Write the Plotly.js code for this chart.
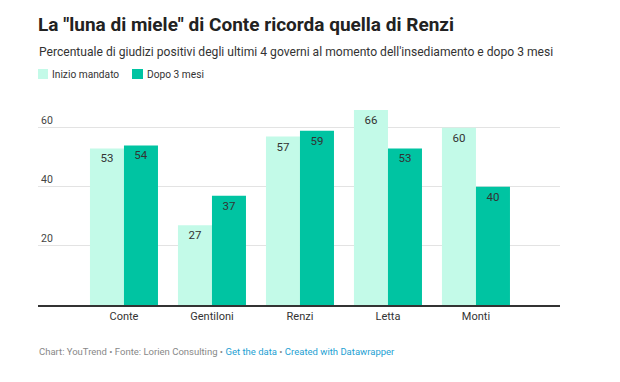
<!DOCTYPE html>
<html>
<head>
<meta charset="utf-8">
<script src="https://cdn.plot.ly/plotly-3.0.1.min.js"></script>
<style>html,body{margin:0;padding:0;background:#fff;}#chart{width:620px;height:382px;}</style>
</head>
<body>
<div id="chart"></div>
<script>
const categories = ["Conte", "Gentiloni", "Renzi", "Letta", "Monti"];
const inizioMandato = [53, 27, 57, 66, 60];
const dopo3Mesi = [54, 37, 59, 53, 40];
const seriesNames = ["Inizio mandato", "Dopo 3 mesi"];
const yTicks = [20, 40, 60];

const LIGHT = "#c3fae8";
const DARK = "#00c4a2";
const FONT = "Roboto, 'Open Sans', sans-serif";

const xIdx = categories.map((_, i) => i);

const traces = [
  {
    type: "bar", name: seriesNames[0], x: xIdx, y: inizioMandato,
    marker: {color: LIGHT}, text: inizioMandato.map(String),
    textposition: "inside", insidetextanchor: "end", textangle: 0,
    textfont: {family: FONT, size: 11.5, color: "#333"},
    constraintext: "none", hoverinfo: "none", showlegend: false
  },
  {
    type: "bar", name: seriesNames[1], x: xIdx, y: dopo3Mesi,
    marker: {color: DARK}, text: dopo3Mesi.map(String),
    textposition: "inside", insidetextanchor: "end", textangle: 0,
    textfont: {family: FONT, size: 11.5, color: "#333"},
    constraintext: "none", hoverinfo: "none", showlegend: false
  }
];

const H = 195, BOTTOM = 305, LEFT = 38, W = 522;
const py = p => (BOTTOM - p) / H;
const px = p => (p - LEFT) / W;

const layout = {
  width: 620, height: 382,
  margin: {l: 38, r: 60, t: 110, b: 77},
  paper_bgcolor: "#fff", plot_bgcolor: "#fff",
  font: {family: FONT, color: "#333"},
  barmode: "group", bargap: 0.227, bargroupgap: 0,
  xaxis: {
    type: "linear", range: [-0.977, 4.955],
    tickvals: xIdx, ticktext: categories,
    showgrid: false, zeroline: false,
    showline: true, linecolor: "#333", linewidth: 1.5,
    ticks: "", tickfont: {family: FONT, size: 11, color: "#333"},
    fixedrange: true
  },
  yaxis: {
    range: [0, 66], tickvals: yTicks, ticktext: yTicks.map(String),
    showgrid: true, gridcolor: "#e3e3e3", gridwidth: 1,
    zeroline: false, showline: false, ticks: "",
    ticklabelposition: "inside top",
    tickfont: {family: FONT, size: 10.5, color: "#444"},
    fixedrange: true
  },
  title: {
    text: "La \"luna di miele\" di Conte ricorda quella di Renzi",
    font: {family: FONT, size: 19, color: "#222", weight: "bold"},
    xref: "container", yref: "container",
    x: 38/620, xanchor: "left", y: 1 - 24/382, yanchor: "middle"
  },
  shapes: [
    {type: "rect", xref: "paper", yref: "paper", x0: px(38), x1: px(48), y0: py(79), y1: py(69), fillcolor: LIGHT, line: {width: 0}},
    {type: "rect", xref: "paper", yref: "paper", x0: px(132), x1: px(143), y0: py(79), y1: py(69), fillcolor: DARK, line: {width: 0}}
  ],
  annotations: [
    {text: "Percentuale di giudizi positivi degli ultimi 4 governi al momento dell'insediamento e dopo 3 mesi",
     xref: "paper", yref: "paper", x: px(37), y: py(52), xanchor: "left", yanchor: "middle", showarrow: false,
     font: {family: FONT, size: 12.1, color: "#333"}},
    {text: seriesNames[0], xref: "paper", yref: "paper", x: px(50), y: py(74), xanchor: "left", yanchor: "middle", showarrow: false,
     font: {family: FONT, size: 10.2, color: "#333"}},
    {text: seriesNames[1], xref: "paper", yref: "paper", x: px(145), y: py(74), xanchor: "left", yanchor: "middle", showarrow: false,
     font: {family: FONT, size: 10.2, color: "#333"}},
    {text: "Chart: YouTrend • Fonte: Lorien Consulting • <span style=\"color:#1d9fd3\">Get the data</span> • <span style=\"color:#1d9fd3\">Created with Datawrapper</span>",
     xref: "paper", yref: "paper", x: px(37), y: py(351), xanchor: "left", yanchor: "middle", showarrow: false,
     font: {family: FONT, size: 9.5, color: "#888"}}
  ]
};

Plotly.newPlot("chart", traces, layout, {displayModeBar: false, staticPlot: true});
</script>
</body>
</html>
